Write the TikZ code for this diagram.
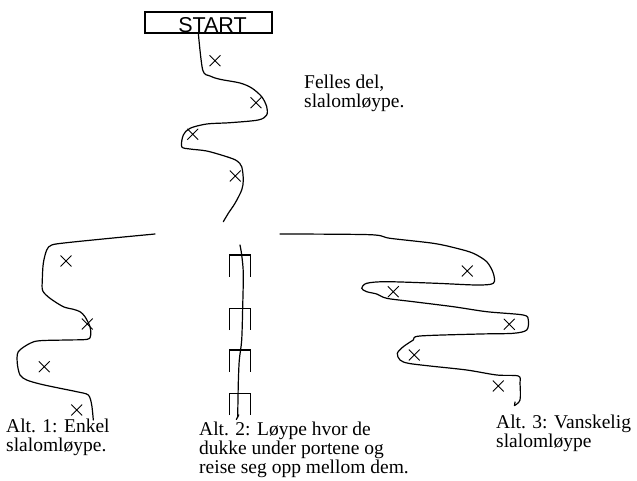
\documentclass[tikz,border=0pt]{standalone}
\usepackage{fontspec}
\setmainfont{Liberation Serif}
\newfontfamily\startfont{Liberation Sans}
\usetikzlibrary{shapes.misc}

\begin{document}
\begin{tikzpicture}[
    x=1pt, y=-1pt,
    course/.style={line width=1.2pt, line join=round, line cap=round},
    marker/.style={cross out, draw, minimum size=10pt, inner sep=0pt, line width=0.9pt},
    port/.style={line width=1.5pt},
    lbl/.style={anchor=base west, inner sep=0pt, align=left,
        font=\fontsize{19.5}{19}\selectfont}
]
\useasboundingbox (0,0) rectangle (637,481);

% start
\node[draw, line width=1.1pt, minimum width=127pt, minimum height=21pt, inner sep=0pt,
    font=\startfont\fontsize{21.5}{21.5}\selectfont] (start) at (208.5,22.5)
    {\hspace{8pt}\raisebox{-10pt}[0pt][0pt]{START}};

% felles del
\draw[course] plot[smooth, tension=0.5] coordinates {
    (198.3,33) (202.7,70) (210,76) (220,79.3) (240,83) (251.7,88) (261.7,96.7)
    (266.7,106.7) (266.7,115) (258.3,120) (230,122.7) (206.7,124) (190,128.3)
    (183.3,135) (181.7,146.7) (190,149) (206.7,151) (226.7,156.7) (236.7,160.7)
    (241.7,166.7) (243.3,180) (241.7,190) (235,203.3) (228.3,213.3) (223.3,221.7)};
\foreach \pos [count=\i] in {(215,60.7), (256,102.7), (192.7,134.3), (235.3,176)}
    \node[marker] (c\i) at \pos {};
\node[lbl] (felles) at (304,108) {Felles del,\\slalomløype.};

% alt 1
\draw[course] plot[smooth, tension=0.5] coordinates {
    (155,234) (110,238.3) (66.7,242.7) (51.7,245) (46.7,250) (43.3,263.3) (42.3,280)
    (42.7,290.7) (50,298.3) (63.3,306.7) (73.3,309.3) (80,311.7) (85,316.7) (90,326.7)
    (90.7,335) (87.3,339.3) (66.7,340) (40,340.7) (30,343.3) (18.3,351.7) (17.3,363.3)
    (20,375) (26.7,380) (40,384) (60,388.3) (76.7,391.7) (88.3,395) (91.7,405) (93.3,420)};
\foreach \pos [count=\i] in {(66,261), (87.3,324), (44.3,366.7), (76.7,410)}
    \node[marker] (l\i) at \pos {};
\node[lbl] (alt1) at (6,451) {Alt. 1: Enkel\\slalomløype.};

% alt 2
\foreach \y in {255,308.3,350,393.3}
    \draw[port] (229.3,\y+21.7) |- (250.7,\y) -- (250.7,\y+21.7);
\draw[course] plot[smooth, tension=0.5] coordinates {
    (240,245) (241.7,255) (243.3,273.3) (242.7,306.7) (241.7,340) (239.3,360)
    (238.3,383.3) (237.7,417)};
\draw[course] (236.3,419.5) -- (238.8,414.8);
\node[lbl] (alt2) at (199,473) {Alt. 2: Løype hvor de\\dukke under portene og\\reise seg opp mellom dem.};

% alt 3
\draw[course] plot[smooth, tension=0.5] coordinates {
    (280,234) (370,234.7) (390,238.3) (433.3,243.3) (456.7,248.3) (473.3,253.3)
    (486.7,261.7) (493.3,273.3) (493.3,283.3) (476.7,285) (436.7,283.3) (386.7,281.7)
    (366.7,283.3) (361.7,288.3) (366.7,291.7) (376.7,294) (386.7,298.3) (413.3,301.7)
    (453.3,306.7) (486.7,311.7) (523.3,315) (528.3,320) (526.7,330) (513.3,333.3)
    (480,334) (420,336) (413.3,340) (403.3,346.7) (397.3,353.3) (400,360) (408.3,363.3)
    (430,366) (466.7,370) (496.7,375) (518.3,376) (520,383.3) (520,400) (514.5,405.5)};
\draw[course] (514.5,405.5) -- (515,402);
\foreach \pos [count=\i] in {(467.3,271), (393.3,291.7), (509.3,324.3), (414.3,355), (498.3,386)}
    \node[marker] (r\i) at \pos {};
\node[lbl] (alt3) at (496,447) {Alt. 3: Vanskelig\\slalomløype};
\end{tikzpicture}
\end{document}
